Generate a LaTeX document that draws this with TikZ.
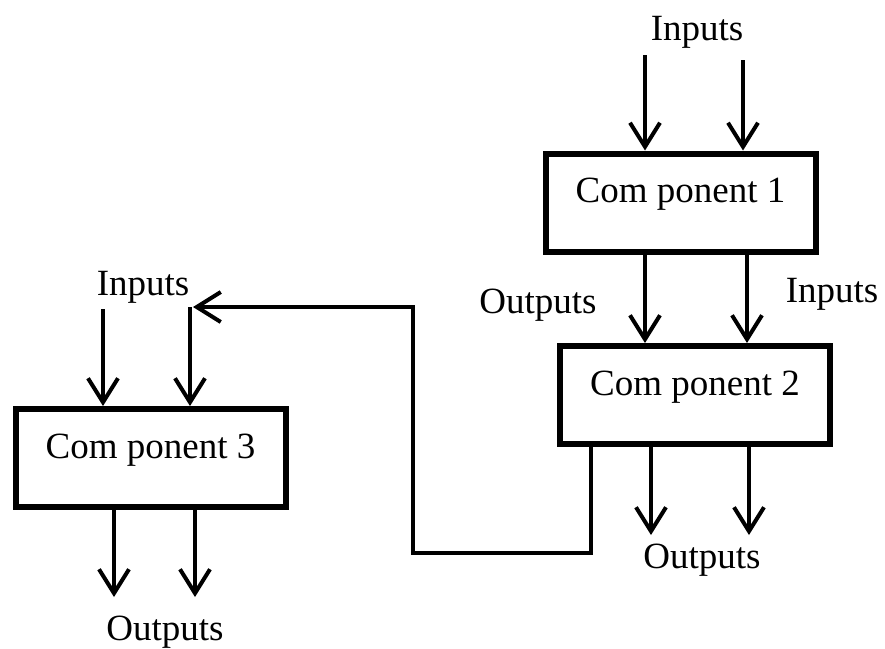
\documentclass[tikz,border=0pt]{standalone}
\usepackage{fontspec}
\setmainfont{Liberation Serif}
\usetikzlibrary{arrows.meta}

\begin{document}
\begin{tikzpicture}[x=0.5pt,y=-0.5pt,font=\fontsize{18.5}{20}\selectfont,
    comp/.style={draw,line width=3pt,minimum width=135pt,inner xsep=0pt,inner ysep=0pt,text height=24.5pt,text depth=24.5pt},
    flow/.style={line width=2pt,-{Straight Barb[length=12pt,width=15pt]}},
    lbl/.style={anchor=base}]
           \useasboundingbox (0,0) rectangle (885,649);

           \node[comp] (c1) at (680.5,202.5) {Com ponent 1};
           \node[comp] (c2) at (695,395) {Com ponent 2};
           \node[comp] (c3) at (150.5,458) {Com ponent 3};

           \node[lbl] (in1) at (697,40) {Inputs};
           \node[lbl] (out12) at (538,313) {Outputs};
           \node[lbl] (in2) at (832,302) {Inputs};
           \node[lbl] (out2) at (702,568) {Outputs};
           \node[lbl] (in3) at (143,295) {Inputs};
           \node[lbl] (out3) at (165,640) {Outputs};

           \coordinate (i1a) at (645,55);
           \coordinate (i1b) at (743,60);
           \coordinate (m12a) at (645,0);
           \coordinate (m12b) at (747,0);
           \coordinate (o2a) at (651,535);
           \coordinate (o2b) at (749,535);
           \coordinate (fbdown) at (591,553);
           \coordinate (fbup) at (413,307);
           \coordinate (fbend) at (193,307);
           \coordinate (i3a) at (103,309);
           \coordinate (i3b) at (190,307);
           \coordinate (o3a) at (114,597);
           \coordinate (o3b) at (195,597);

           \draw[flow] (i1a) -- (i1a |- c1.north);
           \draw[flow] (i1b) -- (i1b |- c1.north);
           \draw[flow] (m12a |- c1.south) -- (m12a |- c2.north);
           \draw[flow] (m12b |- c1.south) -- (m12b |- c2.north);
           \draw[flow] (o2a |- c2.south) -- (o2a);
           \draw[flow] (o2b |- c2.south) -- (o2b);
           \draw[flow] (fbdown |- c2.south) -- (fbdown) -| (fbup) -- (fbend);
           \draw[flow] (i3a) -- (i3a |- c3.north);
           \draw[flow] (i3b) -- (i3b |- c3.north);
           \draw[flow] (o3a |- c3.south) -- (o3a);
           \draw[flow] (o3b |- c3.south) -- (o3b);
         \end{tikzpicture}
\end{document}
